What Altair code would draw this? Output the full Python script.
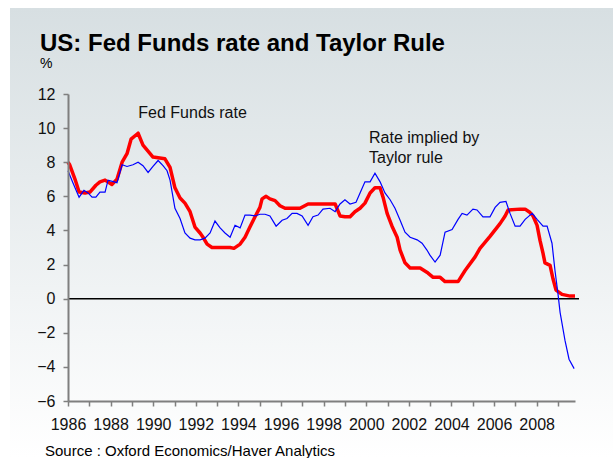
import altair as alt
import pandas as pd

# Fed Funds rate (quarterly-ish readings)
ff_year = [1986.00, 1986.08, 1986.33, 1986.52, 1986.80, 1987.03, 1987.31, 1987.50, 1987.74, 1988.06,
           1988.30, 1988.54, 1988.77, 1988.96, 1989.29, 1989.52, 1989.99, 1990.55, 1990.79, 1991.02,
           1991.26, 1991.49, 1991.73, 1991.96, 1992.20, 1992.34, 1992.53, 1992.76, 1993.14, 1993.61,
           1993.79, 1994.08, 1994.31, 1994.54, 1994.78, 1995.01, 1995.11, 1995.30, 1995.48, 1995.72,
           1995.95, 1996.19, 1996.42, 1996.89, 1997.27, 1997.83, 1998.54, 1998.77, 1999.00, 1999.24,
           1999.47, 1999.71, 1999.94, 2000.18, 2000.41, 2000.65, 2000.79, 2000.98, 2001.21, 2001.45,
           2001.59, 2001.82, 2002.06, 2002.53, 2002.90, 2003.14, 2003.47, 2003.70, 2004.31, 2004.64,
           2005.11, 2005.34, 2005.81, 2006.28, 2006.52, 2006.66, 2007.22, 2007.46, 2007.69, 2007.83,
           2008.02, 2008.16, 2008.30, 2008.39, 2008.63, 2008.77, 2008.91, 2009.19, 2009.57, 2009.80]
ff_rate = [8.00, 7.85, 7.0, 6.25, 6.2, 6.25, 6.65, 6.85, 6.95, 6.7,
           7.0, 8.0, 8.5, 9.35, 9.7, 9.0, 8.3, 8.2, 7.7, 6.5,
           5.9, 5.6, 5.1, 4.2, 3.85, 3.6, 3.2, 3.0, 3.0, 3.0,
           2.95, 3.2, 3.6, 4.2, 4.8, 5.35, 5.85, 6.0, 5.85, 5.75,
           5.45, 5.3, 5.3, 5.3, 5.55, 5.55, 5.55, 4.85, 4.8, 4.8,
           5.1, 5.3, 5.6, 6.2, 6.5, 6.5, 5.95, 5.0, 4.25, 3.6,
           2.85, 2.1, 1.8, 1.8, 1.5, 1.25, 1.25, 1.0, 1.0, 1.65,
           2.45, 2.95, 3.65, 4.4, 4.85, 5.2, 5.25, 5.25, 5.05, 4.85,
           4.3, 3.4, 2.65, 2.1, 1.95, 1.15, 0.5, 0.25, 0.15, 0.15]

# Rate implied by Taylor rule
tr_year = [1986.00, 1986.23, 1986.52, 1986.75, 1986.94, 1987.13, 1987.31, 1987.50, 1987.74, 1987.88,
           1988.30, 1988.54, 1988.77, 1989.05, 1989.29, 1989.52, 1989.76, 1989.99, 1990.23, 1990.46,
           1990.65, 1990.79, 1991.02, 1991.26, 1991.49, 1991.73, 1991.96, 1992.20, 1992.43, 1992.67,
           1992.90, 1993.14, 1993.37, 1993.61, 1993.84, 1994.08, 1994.31, 1994.54, 1994.78, 1995.01,
           1995.25, 1995.48, 1995.77, 1996.05, 1996.28, 1996.52, 1996.75, 1996.99, 1997.27, 1997.50,
           1997.74, 1997.97, 1998.30, 1998.54, 1998.77, 1999.00, 1999.24, 1999.52, 1999.71, 1999.94,
           2000.18, 2000.41, 2000.65, 2000.88, 2001.12, 2001.35, 2001.59, 2001.82, 2002.06, 2002.39,
           2002.62, 2002.85, 2002.99, 2003.23, 2003.47, 2003.70, 2004.03, 2004.31, 2004.50, 2004.73,
           2005.01, 2005.20, 2005.48, 2005.81, 2006.05, 2006.28, 2006.56, 2006.75, 2006.99, 2007.22,
           2007.46, 2007.79, 2008.02, 2008.30, 2008.49, 2008.72, 2008.86, 2009.00, 2009.10, 2009.33,
           2009.52, 2009.76]
tr_rate = [7.5, 6.8, 5.95, 6.35, 6.2, 5.95, 5.95, 6.25, 6.25, 6.95,
           6.8, 7.85, 7.75, 7.85, 8.0, 7.8, 7.4, 7.75, 8.1, 7.8,
           7.5, 6.95, 5.3, 4.7, 3.85, 3.55, 3.45, 3.45, 3.55, 3.85,
           4.55, 4.15, 3.85, 3.6, 4.3, 4.15, 4.9, 4.9, 4.85, 4.95,
           4.95, 4.85, 4.25, 4.6, 4.7, 5.0, 5.0, 4.85, 4.3, 4.8,
           4.9, 5.25, 5.3, 5.1, 5.55, 5.8, 5.55, 5.65, 6.2, 6.85,
           6.85, 7.35, 6.85, 6.2, 5.8, 5.3, 4.6, 3.9, 3.6, 3.45,
           3.25, 2.85, 2.55, 2.15, 2.55, 3.9, 4.05, 4.65, 5.0, 4.9,
           5.25, 5.2, 4.8, 4.8, 5.35, 5.65, 5.7, 5.0, 4.25, 4.25,
           4.65, 5.0, 4.65, 4.25, 4.25, 3.25, 1.65, 0.3, -0.8, -2.45,
           -3.55, -4.1]

year_ticks = list(range(1986, 2010))
y_ticks = [-6, -4, -2, 0, 2, 4, 6, 8, 10, 12]

label_text = ["Fed Funds rate", "Rate implied by", "Taylor rule"]
label_year = [1989.3, 2000.13, 2000.13]
label_val = [10.6, 9.12, 7.95]

FONT = "Liberation Sans"
W, H = 507, 307

ff = pd.DataFrame({"year": ff_year, "rate": ff_rate})
tr = pd.DataFrame({"year": tr_year, "rate": tr_rate})
labels = pd.DataFrame({"year": label_year, "val": label_val, "text": label_text})
one = pd.DataFrame({"k": [0]})

xscale = alt.Scale(domain=[1986, 2009.8], nice=False, zero=False)
yscale = alt.Scale(domain=[-6, 12], nice=False)

xaxis = alt.Axis(values=year_ticks, format="d", labelExpr="datum.value % 2 == 0 ? datum.label : ''",
                 title=None, grid=False, domainColor="#7f7f7f", domainWidth=2, tickColor="#7f7f7f",
                 tickWidth=1.5, tickSize=5, labelFontSize=16, labelFont=FONT, labelColor="#111111",
                 labelPadding=10, labelFlush=False, labelOverlap=False, zindex=1)
yaxis = alt.Axis(values=y_ticks, format="d", title=None, grid=False, domainColor="#7f7f7f", domainWidth=2,
                 tickColor="#7f7f7f", tickWidth=1.5, tickSize=5, labelFontSize=16, labelFont=FONT,
                 labelColor="#111111", labelPadding=8, labelOverlap=False, labelFlush=False, zindex=1)

bg = alt.Chart(one).mark_rect(
    color=alt.LinearGradient(gradient="linear", x1=0, y1=0, x2=0, y2=1,
                             stops=[alt.GradientStop(color="#d7dfe2", offset=0),
                                    alt.GradientStop(color="#ffffff", offset=1)])
).encode(x=alt.value(-58), x2=alt.value(613 - 68), y=alt.value(-86), y2=alt.value(458 - 94))

title = alt.Chart(one).mark_text(align="left", baseline="alphabetic", font=FONT, fontSize=24,
                                 fontWeight="bold", color="#000000").encode(
    x=alt.value(-28), y=alt.value(-43), text=alt.value("US: Fed Funds rate and Taylor Rule"))
unit = alt.Chart(one).mark_text(align="left", baseline="alphabetic", font=FONT, fontSize=14,
                                color="#000000").encode(
    x=alt.value(-28), y=alt.value(-26), text=alt.value("%"))
source = alt.Chart(one).mark_text(align="left", baseline="alphabetic", font=FONT, fontSize=15,
                                  color="#000000").encode(
    x=alt.value(-23), y=alt.value(362), text=alt.value("Source : Oxford Economics/Haver Analytics"))

red = alt.Chart(ff).mark_line(color="#ff0000", strokeWidth=3.5, strokeJoin="round").encode(
    x=alt.X("year:Q", scale=xscale, axis=xaxis),
    y=alt.Y("rate:Q", scale=yscale, axis=yaxis))
blue = alt.Chart(tr).mark_line(color="#0000ff", strokeWidth=1.2).encode(
    x=alt.X("year:Q", scale=xscale, axis=xaxis), y=alt.Y("rate:Q", scale=yscale, axis=yaxis))
zero = alt.Chart(one).mark_rule(color="#000000", strokeWidth=1.5).encode(
    x=alt.value(0), x2=alt.value(W + 4), y=alt.YDatum(0, scale=yscale, axis=yaxis, type="quantitative"))
texts = alt.Chart(labels).mark_text(align="left", baseline="alphabetic", font=FONT, fontSize=16,
                                    color="#111111").encode(
    x=alt.X("year:Q", scale=xscale, axis=xaxis), y=alt.Y("val:Q", scale=yscale, axis=yaxis),
    text="text:N")

chart = alt.layer(bg, red, zero, blue, texts, title, unit, source).properties(
    width=W, height=H,
    autosize=alt.AutoSizeParams(type="none"),
    padding={"left": 68, "top": 94, "right": 38, "bottom": 57},
).configure_view(stroke=None).configure(background="#ffffff")

chart.save("out.html", embed_options={"renderer": "svg", "actions": False})
